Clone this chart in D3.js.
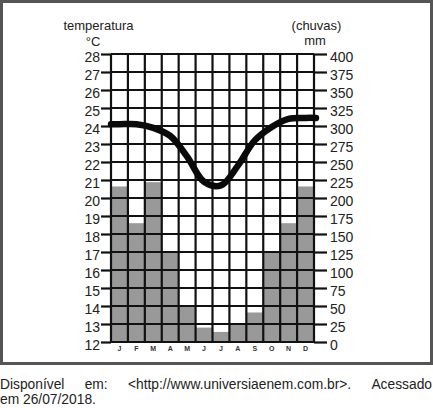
<!DOCTYPE html>
<html><head><meta charset="utf-8">
<script src="https://cdn.jsdelivr.net/npm/d3@7"></script>
<style>body{margin:0;background:#fff}svg{display:block;font-family:"Liberation Sans",Arial,sans-serif}</style>
</head><body><svg id="c" width="433" height="408"></svg>
<script>
const months = ["J","F","M","A","M","J","J","A","S","O","N","D"];
const rainfall = [216,165,222,125,49,20,14,24,41,125,165,216];
const temperature = [24.1,24.1,23.9,23.45,22.3,20.9,20.7,21.8,23.2,23.95,24.4,24.45];
const tempTicks = [12,13,14,15,16,17,18,19,20,21,22,23,24,25,26,27,28];
const rainTicks = [0,25,50,75,100,125,150,175,200,225,250,275,300,325,350,375,400];
const captionLines = ["Disponível em: <http://www.universiaenem.com.br>. Acessado","em 26/07/2018."];

const svg = d3.select("#c");
const L=111,R=314,T=54,B=342;
const x = d3.scaleBand().domain(d3.range(months.length)).range([L,R]).padding(0);
const yT = d3.scaleLinear().domain([12,28]).range([B,T]);
const yR = d3.scaleLinear().domain([0,400]).range([B,T]);

// frame
svg.append("rect").attr("x",1.5).attr("y",1.5).attr("width",430).attr("height",362)
  .attr("fill","none").attr("stroke","#555").attr("stroke-width",3);

// bars
svg.append("g").selectAll("rect").data(rainfall).join("rect")
  .attr("x",(d,i)=>x(i)).attr("y",d=>yR(d))
  .attr("width",x.bandwidth()).attr("height",d=>B-yR(d))
  .attr("fill","#999");

// grid
const grid = svg.append("g").attr("stroke","#111").attr("stroke-width",2.2);
grid.selectAll("line.h").data(tempTicks).join("line").attr("class","h")
  .attr("x1",L).attr("x2",R).attr("y1",d=>yT(d)).attr("y2",d=>yT(d));
grid.selectAll("line.v").data(d3.range(months.length+1)).join("line").attr("class","v")
  .attr("x1",i=>i<months.length?x(i):x.range()[1]).attr("x2",i=>i<months.length?x(i):x.range()[1])
  .attr("y1",T).attr("y2",B);

// axes
const la = svg.append("g").attr("transform",`translate(${L},0)`)
  .call(d3.axisLeft(yT).tickValues(tempTicks).tickSize(10).tickPadding(1).tickFormat(d3.format("d")));
const ra = svg.append("g").attr("transform",`translate(${R},0)`)
  .call(d3.axisRight(yR).tickValues(rainTicks).tickSize(13).tickPadding(3).tickFormat(d3.format("d")));
[la,ra].forEach(a=>{
  a.select(".domain").remove();
  a.selectAll(".tick line").attr("stroke","#111").attr("stroke-width",2.2);
  a.selectAll(".tick text").attr("fill","#222").style("font-size","14px")
    .style("font-family",'"Liberation Sans",Arial,sans-serif').attr("transform","translate(0,3)");
});

// month labels
svg.append("g").selectAll("text").data(months).join("text")
  .attr("x",(d,i)=>x(i)+x.bandwidth()/2).attr("y",351)
  .attr("text-anchor","middle").attr("font-size",7).attr("font-weight","bold").attr("fill","#333")
  .text(d=>d);

// temperature line
const pts = [[x.range()[0],temperature[0]]]
  .concat(temperature.map((t,i)=>[x(i)+x.bandwidth()/2,t]))
  .concat([[x.range()[1]+2,temperature[temperature.length-1]]]);
svg.append("path").datum(pts)
  .attr("d",d3.line().x(d=>d[0]).y(d=>yT(d[1])).curve(d3.curveCatmullRom.alpha(0.5)))
  .attr("fill","none").attr("stroke","#0a0a0a").attr("stroke-width",6.5)
  .attr("stroke-linecap","round").attr("stroke-linejoin","round");

// axis titles
const tt = svg.append("g").attr("font-size",13).attr("fill","#222").attr("text-anchor","middle");
tt.append("text").attr("x",98.5).attr("y",30).text("temperatura");
tt.append("text").attr("x",93).attr("y",46).text("°C");
tt.append("text").attr("x",316.5).attr("y",30).text("(chuvas)");
tt.append("text").attr("x",315).attr("y",45).text("mm");

// caption (first line justified word by word)
const cap = svg.append("g").attr("font-size",13.8).attr("fill","#222");
captionLines.forEach((s,i)=>{
  const y = 389+i*15;
  if(i===0){
    const words = s.split(" ");
    const nodes = words.map(w=>cap.append("text").attr("y",y).text(w));
    const widths = nodes.map(n=>n.node().getComputedTextLength());
    const gap = (432-d3.sum(widths))/(words.length-1);
    let cx = 0;
    nodes.forEach((n,k)=>{ n.attr("x",cx); cx += widths[k]+gap; });
  } else {
    cap.append("text").attr("x",0).attr("y",y).text(s);
  }
});
</script></body></html>
